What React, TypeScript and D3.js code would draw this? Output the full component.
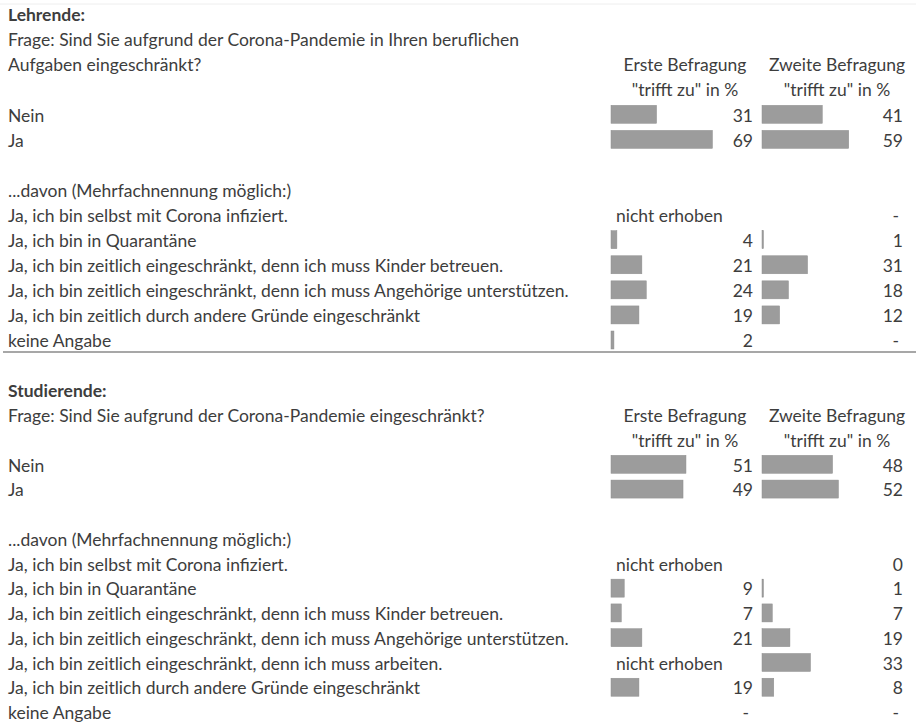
import React from "react";
import * as d3 from "d3";

// Lehrende
const lehrTitle = "Lehrende:";
const lehrQuestion = [
  "Frage: Sind Sie aufgrund der Corona-Pandemie in Ihren beruflichen",
  "Aufgaben eingeschränkt?",
];
const lehrMainCats = ["Nein", "Ja"];
const lehrMainErste = [31, 69];
const lehrMainZweite = [41, 59];
const lehrSubCats = [
  "Ja, ich bin selbst mit Corona infiziert.",
  "Ja, ich bin in Quarantäne",
  "Ja, ich bin zeitlich eingeschränkt, denn ich muss Kinder betreuen.",
  "Ja, ich bin zeitlich eingeschränkt, denn ich muss Angehörige unterstützen.",
  "Ja, ich bin zeitlich durch andere Gründe eingeschränkt",
  "keine Angabe",
];
const lehrSubErste: (number | string)[] = ["nicht erhoben", 4, 21, 24, 19, 2];
const lehrSubZweite: (number | string)[] = ["-", 1, 31, 18, 12, "-"];

// Studierende
const studTitle = "Studierende:";
const studQuestion = ["Frage: Sind Sie aufgrund der Corona-Pandemie eingeschränkt?"];
const studMainCats = ["Nein", "Ja"];
const studMainErste = [51, 49];
const studMainZweite = [48, 52];
const studSubCats = [
  "Ja, ich bin selbst mit Corona infiziert.",
  "Ja, ich bin in Quarantäne",
  "Ja, ich bin zeitlich eingeschränkt, denn ich muss Kinder betreuen.",
  "Ja, ich bin zeitlich eingeschränkt, denn ich muss Angehörige unterstützen.",
  "Ja, ich bin zeitlich eingeschränkt, denn ich muss arbeiten.",
  "Ja, ich bin zeitlich durch andere Gründe eingeschränkt",
  "keine Angabe",
];
const studSubErste: (number | string)[] = ["nicht erhoben", 9, 7, 21, "nicht erhoben", 19, "-"];
const studSubZweite: (number | string)[] = [0, 1, 7, 19, 33, 8, "-"];

const colHeads = ["Erste Befragung", "Zweite Befragung"];
const colSub = '"trifft zu" in %';
const davon = "...davon (Mehrfachnennung möglich:)";

const W = 916;
const H = 726;
const FONT = "Lato, 'Open Sans', sans-serif";
const FS = 17.5;
const TEXT = "#3d3d3d";
const BAR = "#9c9c9c";
const DY = "0.3em";

const colX = [611, 762]; // bar start of each column
const numX = [753, 903]; // right edge of numbers
const headX = [685, 837];

const x = d3.scaleLinear().domain([0, 100]).range([0, 147]);

const Cell = ({ v, col, y }: { v: number | string; col: number; y: number }) => {
  if (typeof v === "number") {
    return (
      <g>
        {v > 0 && (
          <rect x={colX[col]} y={y - 11} width={x(v)} height={18} fill={BAR} stroke="#8f8f8f" strokeWidth={0.5} />
        )}
        <text x={numX[col]} y={y} dy={DY} textAnchor="end">
          {v}
        </text>
      </g>
    );
  }
  if (v === "-") {
    return (
      <text x={numX[col] - 4} y={y} dy={DY} textAnchor="end">
        -
      </text>
    );
  }
  return (
    <text x={colX[col] + 5} y={y} dy={DY}>
      {v}
    </text>
  );
};

const Section = ({
  top,
  bottom,
  title,
  question,
  mainCats,
  mainErste,
  mainZweite,
  subCats,
  subErste,
  subZweite,
}: any) => {
  // one row per text line, 13 rows between title and "keine Angabe"
  const y = d3.scaleLinear().domain([0, 13]).range([top, bottom]);
  const headRow = question.length; // header aligned with last question line
  const mainStart = headRow + 2;
  const davonRow = mainStart + mainCats.length + 1;
  const subStart = davonRow + 1;
  return (
    <g>
      <text x={8} y={y(0)} dy={DY} fontWeight="bold">
        {title}
      </text>
      {question.map((q: string, i: number) => (
        <text key={q} x={8} y={y(i + 1)} dy={DY}>
          {q}
        </text>
      ))}
      {colHeads.map((h, i) => (
        <g key={h}>
          <text x={headX[i]} y={y(headRow)} dy={DY} textAnchor="middle">
            {h}
          </text>
          <text x={headX[i]} y={y(headRow + 1)} dy={DY} textAnchor="middle">
            {colSub}
          </text>
        </g>
      ))}
      {mainCats.map((c: string, i: number) => (
        <g key={c}>
          <text x={8} y={y(mainStart + i)} dy={DY}>
            {c}
          </text>
          <Cell v={mainErste[i]} col={0} y={y(mainStart + i)} />
          <Cell v={mainZweite[i]} col={1} y={y(mainStart + i)} />
        </g>
      ))}
      <text x={8} y={y(davonRow)} dy={DY}>
        {davon}
      </text>
      {subCats.map((c: string, i: number) => (
        <g key={c}>
          <text x={8} y={y(subStart + i)} dy={DY}>
            {c}
          </text>
          <Cell v={subErste[i]} col={0} y={y(subStart + i)} />
          <Cell v={subZweite[i]} col={1} y={y(subStart + i)} />
        </g>
      ))}
    </g>
  );
};

export default function App() {
  return (
    <svg
      width={W}
      height={H}
      style={{ position: "absolute", left: 0, top: 0, background: "#fff" }}
      fontFamily={FONT}
      fontSize={FS}
      fill={TEXT}
    >
      <rect width={W} height={H} fill="#fff" />
      <line x1={0} x2={W} y1={4} y2={4} stroke="#eeeeee" />
      <Section
        top={16}
        bottom={342}
        title={lehrTitle}
        question={lehrQuestion}
        mainCats={lehrMainCats}
        mainErste={lehrMainErste}
        mainZweite={lehrMainZweite}
        subCats={lehrSubCats}
        subErste={lehrSubErste}
        subZweite={lehrSubZweite}
      />
      <line x1={3} x2={W} y1={352} y2={352} stroke="#8a8a8a" strokeWidth={1.5} />
      <Section
        top={392}
        bottom={714}
        title={studTitle}
        question={studQuestion}
        mainCats={studMainCats}
        mainErste={studMainErste}
        mainZweite={studMainZweite}
        subCats={studSubCats}
        subErste={studSubErste}
        subZweite={studSubZweite}
      />
    </svg>
  );
}
